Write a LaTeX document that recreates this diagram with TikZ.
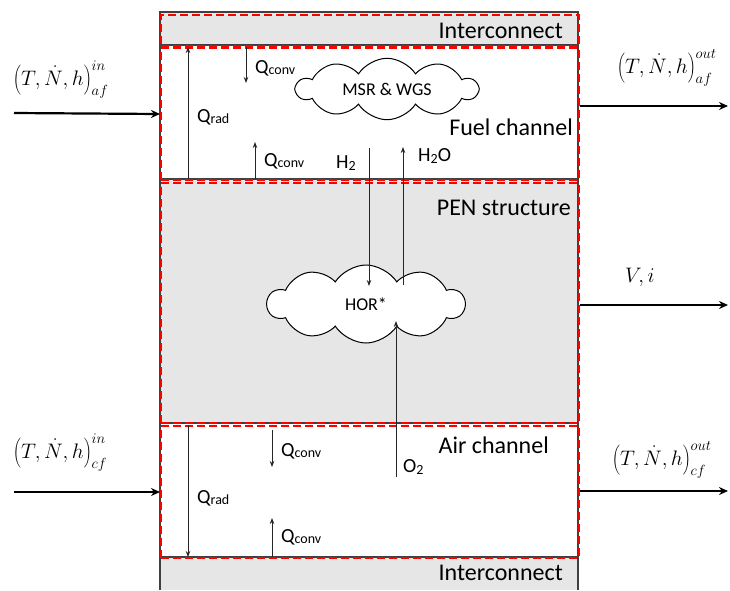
\documentclass[tikz,border=0pt]{standalone}
\usepackage{fix-cm}
\usepackage{fontspec}
\setmainfont{Carlito}
\usetikzlibrary{shapes.symbols,arrows.meta}
\definecolor{panel}{HTML}{E6E6E6}
\definecolor{edge}{HTML}{404040}
\newcommand\smallsub[1]{\raisebox{-1.5pt}{\fontsize{14}{14}\selectfont#1}}
\begin{document}
\begin{tikzpicture}[x=1pt,y=-1pt, font=\fontsize{20}{23}\selectfont,
  zone/.style={draw=red, line width=2pt, dash pattern=on 8pt off 4pt, inner sep=0, anchor=north west, minimum width=418pt},
  wall/.style={draw=edge, line width=1.2pt},
  heat/.style={draw=black!85, line width=0.9pt, -{Stealth[length=6pt,width=4.5pt]}},
  flow/.style={draw=black, line width=2.2pt, -{Stealth[length=9pt,width=8pt]}},
  lbl/.style={anchor=west, inner sep=0},
  zonetext/.style={anchor=east, inner sep=0, font=\fontsize{24}{28}\selectfont},
  puff/.style={cloud, cloud puffs=10, cloud puff arc=115, aspect=3, draw, fill=white, line width=1pt, inner sep=0},
  mathlbl/.style={anchor=base west, inner sep=0, font=\fontsize{21}{25}\selectfont}
]
\useasboundingbox (0,0) rectangle (730,590);
% stack body: interconnects and PEN in grey
\fill[panel] (160,12) rectangle (578,590);
\draw[wall] (160,590) -- (160,12) -- (578,12) -- (578,590);
% gas channels
\draw[wall, fill=white] (160,45) rectangle (578,179);
\draw[wall, fill=white] (160,423) rectangle (578,557);
% control volumes
\node[zone, minimum height=31pt] (ictop) at (160,14) {};
\node[zone, minimum height=132pt] (fuel) at (160,47) {};
\node[zone, minimum height=240pt] (pen) at (160,182) {};
\node[zone, minimum height=132pt] (air) at (160,425) {};

% zone names
\node[zonetext] (tIcTop) at (563,31) {Interconnect};
\node[zonetext] (tFuel) at (573,127) {Fuel channel};
\node[zonetext] (tPen) at (571,208) {PEN structure};
\node[zonetext] (tAir) at (549,445) {Air channel};
\node[zonetext] (tIcBot) at (563,573) {Interconnect};

% reaction zones
\node[puff, minimum width=181pt, minimum height=60pt, font=\fontsize{18}{21}\selectfont] (msr) at (387,89) {MSR \& WGS};
\node[puff, minimum width=197pt, minimum height=78pt, font=\fontsize{18}{21}\selectfont] (hor) at (366,304) {HOR*};

% heat transfer, fuel channel
\coordinate (qc1a) at (246,47);  \coordinate (qc1b) at (246,83);
\coordinate (qr1a) at (188,179); \coordinate (qr1b) at (188,47);
\coordinate (qc2a) at (255,179); \coordinate (qc2b) at (255,142);
\draw[heat] (qc1a) -- (qc1b);
\draw[heat] (qr1a) -- (qr1b);
\draw[heat] (qc2a) -- (qc2b);
\node[lbl] (lqc1) at (255,68) {Q\smallsub{conv}};
\node[lbl] (lqr1) at (197,117) {Q\smallsub{rad}};
\node[lbl] (lqc2) at (264,161) {Q\smallsub{conv}};

% species transport
\coordinate (h2a) at (369,148);  \coordinate (h2b) at (369,286);
\coordinate (h2oa) at (403,285); \coordinate (h2ob) at (403,147);
\coordinate (o2a) at (396,477);  \coordinate (o2b) at (396,321);
\draw[heat] (h2a) -- (h2b);
\draw[heat] (h2oa) -- (h2ob);
\draw[heat] (o2a) -- (o2b);
\node[lbl] (lh2) at (336,163) {H\smallsub{2}};
\node[lbl] (lh2o) at (418,156) {H\smallsub{2}O};
\node[lbl] (lo2) at (403,467) {O\smallsub{2}};

% heat transfer, air channel
\coordinate (qc3a) at (272,430); \coordinate (qc3b) at (272,467);
\coordinate (qr2a) at (188,425); \coordinate (qr2b) at (188,557);
\coordinate (qc4a) at (272,557); \coordinate (qc4b) at (272,518);
\draw[heat] (qc3a) -- (qc3b);
\draw[heat] (qr2a) -- (qr2b);
\draw[heat] (qc4a) -- (qc4b);
\node[lbl] (lqc3) at (281,451) {Q\smallsub{conv}};
\node[lbl] (lqr2) at (197,498) {Q\smallsub{rad}};
\node[lbl] (lqc4) at (281,537) {Q\smallsub{conv}};

% inlet and outlet streams
\coordinate (afin) at (14,113);
\coordinate (cfin) at (14,492);
\coordinate (afout) at (728,106);
\coordinate (elout) at (728,305);
\coordinate (cfout) at (728,491);
\draw[flow] (afin) -- (fuel.west);
\draw[flow] (cfin) -- (air.west);
\draw[flow] (fuel.east |- afout) -- (afout);
\draw[flow] (pen.east |- elout) -- (elout);
\draw[flow] (air.east |- cfout) -- (cfout);
\node[mathlbl] (mafin) at (13,85) {$\left(T,\dot{N},h\right)^{in}_{af}$};
\node[mathlbl] (mcfin) at (13,458) {$\left(T,\dot{N},h\right)^{in}_{cf}$};
\node[mathlbl] (mafout) at (617,73) {$\left(T,\dot{N},h\right)^{out}_{af}$};
\node[mathlbl] (mcfout) at (612,465) {$\left(T,\dot{N},h\right)^{out}_{cf}$};
\node[mathlbl] (mel) at (625,282) {$V,i$};
\end{tikzpicture}
\end{document}
